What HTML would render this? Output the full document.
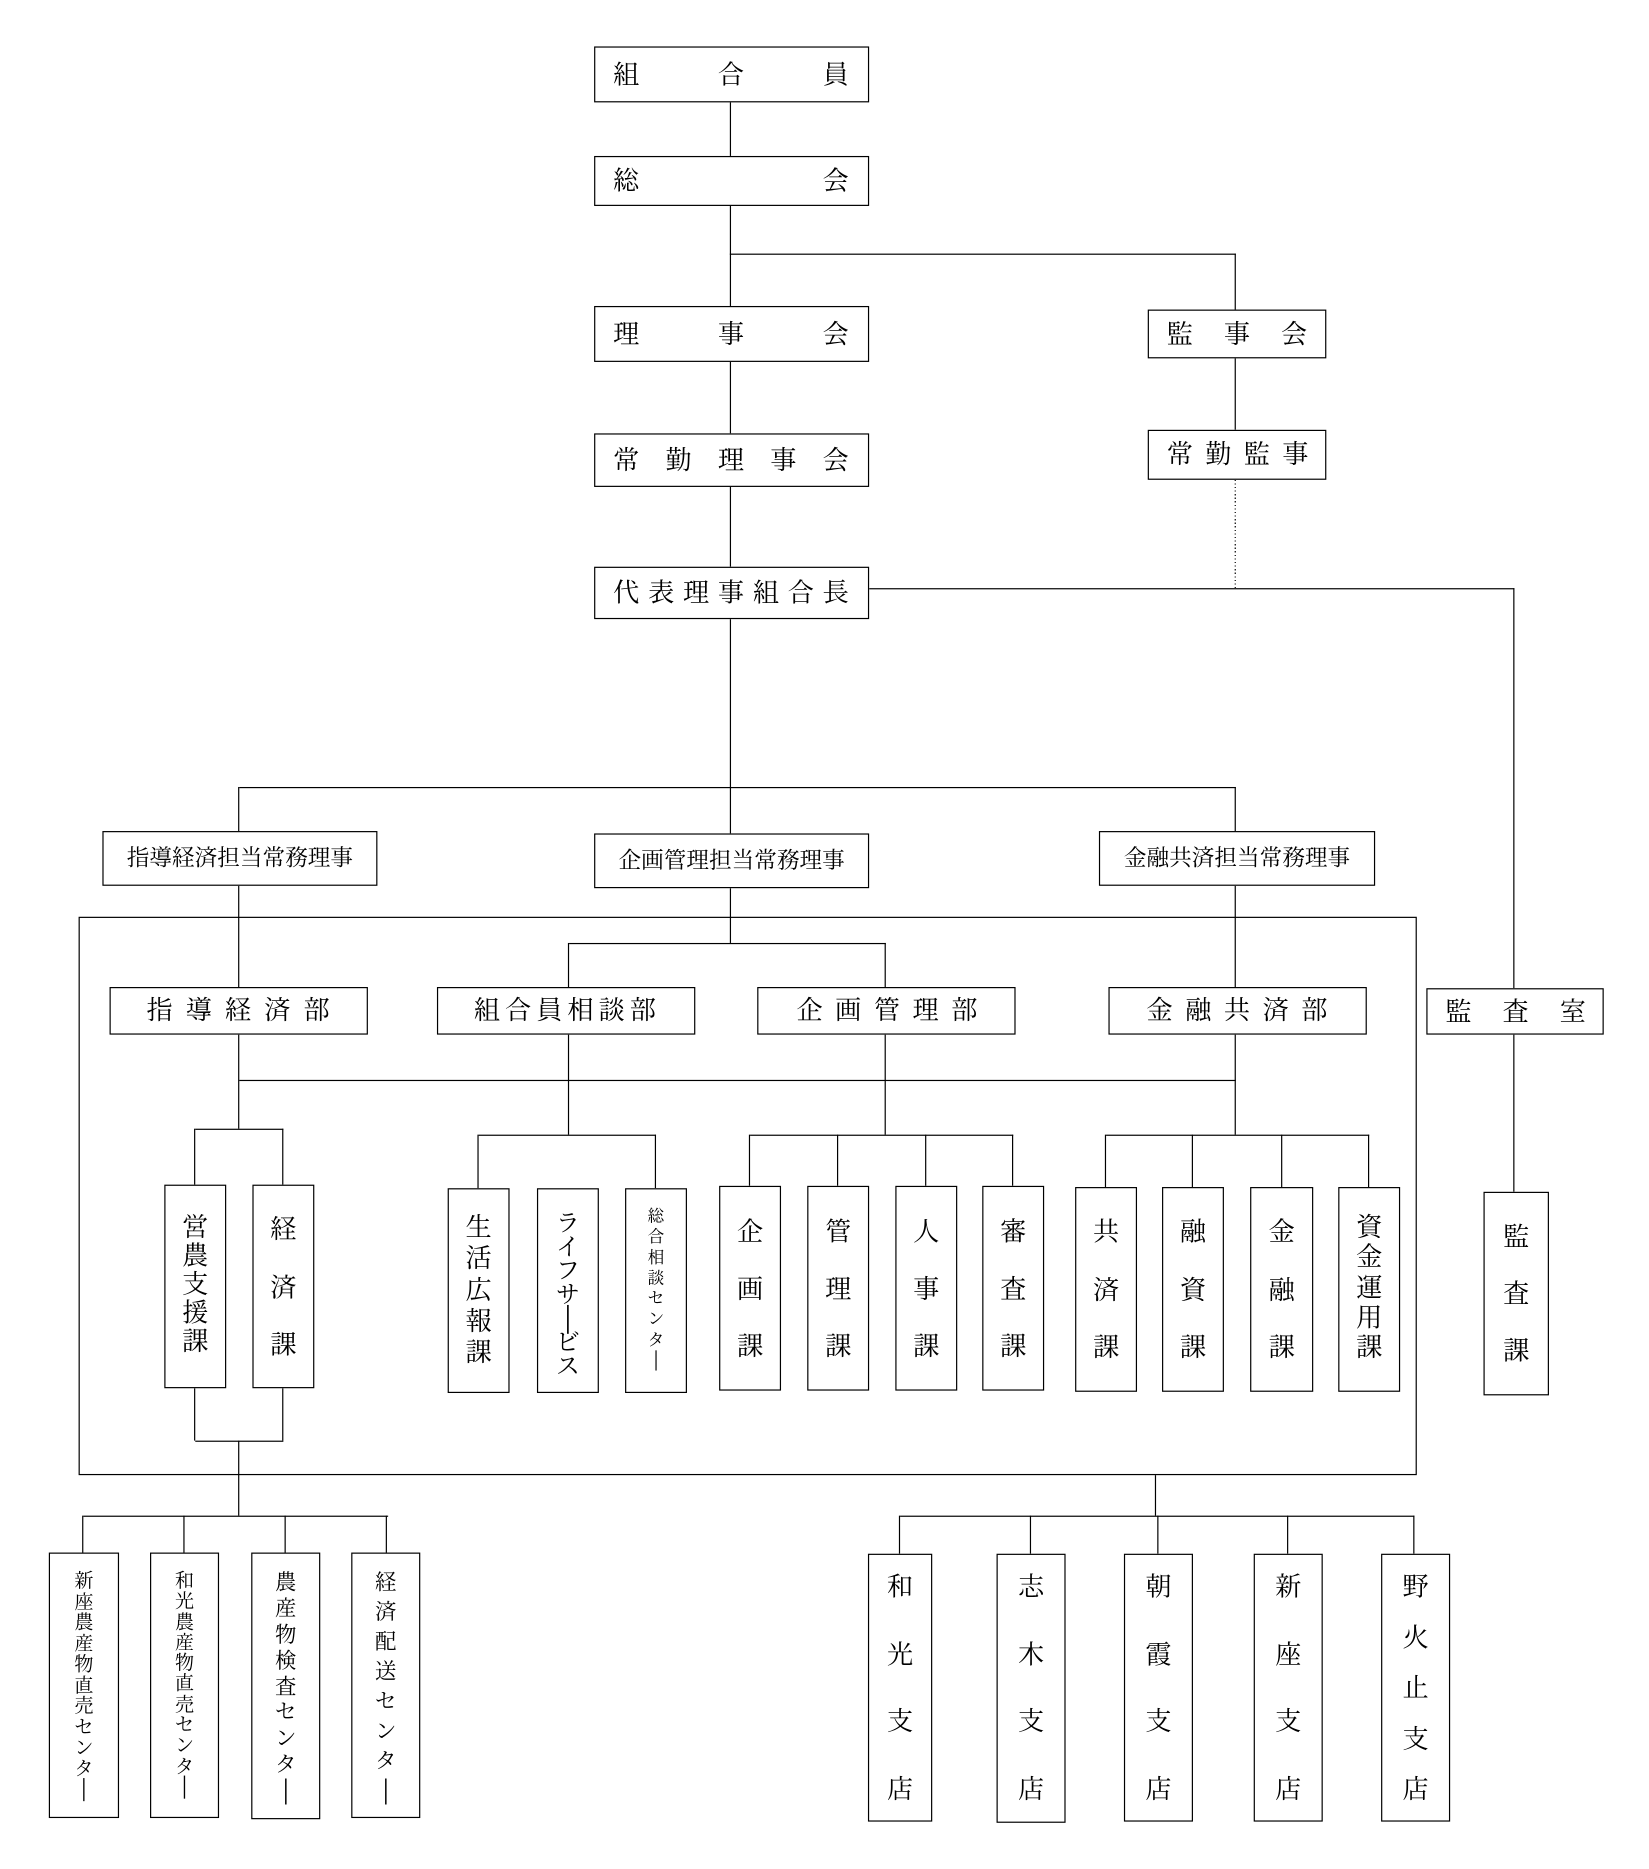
<!DOCTYPE html>
<html lang="ja"><head><meta charset="utf-8">
<style>
html,body{margin:0;padding:0;background:#fff;}
body{width:1649px;height:1869px;overflow:hidden;}
#c{position:absolute;left:0;top:0;width:1385px;height:1570px;transform:scale(1.1906);transform-origin:0 0;
font-family:"Liberation Serif","Noto Serif CJK JP","Noto Serif CJK SC",serif;color:#000;}
.b{position:absolute;border:1.6px solid #000;box-sizing:border-box;display:flex;justify-content:space-between;align-items:center;background:#fff;font-size:22px;line-height:1;}
.v{flex-direction:column;}
.b span{display:block;line-height:1;}
.cen{justify-content:center;font-size:19px;}
.h{position:absolute;height:0;border-top:1.5px solid #000;}
.l{position:absolute;width:0;border-left:1.5px solid #000;}
</style></head><body><div id="c">

<div class="l" style="left:613px;top:86px;height:45px"></div>
<div class="l" style="left:613px;top:173px;height:84px"></div>
<div class="h" style="left:613px;top:213px;width:425px"></div>
<div class="l" style="left:1037px;top:213px;height:47px"></div>
<div class="l" style="left:613px;top:304px;height:60px"></div>
<div class="l" style="left:1037px;top:301px;height:60px"></div>
<div style="position:absolute;left:1037px;top:403px;width:1px;height:91px;background:repeating-linear-gradient(#000 0 1px,transparent 1px 3px)"></div>
<div class="l" style="left:613px;top:409px;height:67px"></div>
<div class="h" style="left:730px;top:494px;width:542px"></div>
<div class="l" style="left:1271px;top:494px;height:336px"></div>
<div class="l" style="left:613px;top:520px;height:141px"></div>
<div class="h" style="left:201px;top:661px;width:837px"></div>
<div class="l" style="left:200px;top:661px;height:37px"></div>
<div class="l" style="left:613px;top:661px;height:39px"></div>
<div class="l" style="left:1037px;top:661px;height:37px"></div>

<div style="position:absolute;left:66px;top:770px;width:1124px;height:469px;border:1.5px solid #000;box-sizing:border-box"></div>

<div class="l" style="left:200px;top:744px;height:85px"></div>
<div class="l" style="left:613px;top:746px;height:46px"></div>
<div class="h" style="left:478px;top:792px;width:266px"></div>
<div class="l" style="left:477px;top:792px;height:37px"></div>
<div class="l" style="left:743px;top:792px;height:37px"></div>
<div class="l" style="left:1037px;top:744px;height:85px"></div>

<div class="l" style="left:200px;top:869px;height:79px"></div>
<div class="h" style="left:201px;top:907px;width:837px"></div>
<div class="l" style="left:477px;top:869px;height:84px"></div>
<div class="l" style="left:743px;top:869px;height:84px"></div>
<div class="l" style="left:1037px;top:869px;height:84px"></div>

<div class="h" style="left:164px;top:948px;width:74px"></div>
<div class="l" style="left:163px;top:948px;height:47px"></div>
<div class="l" style="left:237px;top:948px;height:47px"></div>

<div class="h" style="left:402px;top:953px;width:149px"></div>
<div class="l" style="left:401px;top:953px;height:45px"></div>
<div class="l" style="left:550px;top:953px;height:45px"></div>

<div class="h" style="left:630px;top:953px;width:221px"></div>
<div class="l" style="left:629px;top:953px;height:43px"></div>
<div class="l" style="left:703px;top:953px;height:43px"></div>
<div class="l" style="left:777px;top:953px;height:43px"></div>
<div class="l" style="left:850px;top:953px;height:43px"></div>

<div class="h" style="left:929px;top:953px;width:221px"></div>
<div class="l" style="left:928px;top:953px;height:44px"></div>
<div class="l" style="left:1001px;top:953px;height:44px"></div>
<div class="l" style="left:1076px;top:953px;height:44px"></div>
<div class="l" style="left:1149px;top:953px;height:44px"></div>

<div class="l" style="left:1271px;top:869px;height:132px"></div>

<div class="l" style="left:163px;top:1166px;height:44px"></div>
<div class="l" style="left:237px;top:1166px;height:44px"></div>
<div class="h" style="left:164px;top:1210px;width:74px"></div>
<div class="l" style="left:200px;top:1210px;height:63px"></div>
<div class="h" style="left:70px;top:1273px;width:256px"></div>
<div class="l" style="left:69px;top:1273px;height:31px"></div>
<div class="l" style="left:154px;top:1273px;height:31px"></div>
<div class="l" style="left:239px;top:1273px;height:31px"></div>
<div class="l" style="left:324px;top:1273px;height:31px"></div>

<div class="l" style="left:970px;top:1239px;height:34px"></div>
<div class="h" style="left:756px;top:1273px;width:432px"></div>
<div class="l" style="left:755px;top:1273px;height:32px"></div>
<div class="l" style="left:865px;top:1273px;height:32px"></div>
<div class="l" style="left:972px;top:1273px;height:32px"></div>
<div class="l" style="left:1081px;top:1273px;height:32px"></div>
<div class="l" style="left:1187px;top:1273px;height:32px"></div>

<div class="b" style="left:499px;top:39px;width:231px;height:47px;padding:0 16px 0 15px"><span>組</span><span>合</span><span>員</span></div>
<div class="b" style="left:499px;top:131px;width:231px;height:42px;padding:0 16px 0 15px"><span>総</span><span>会</span></div>
<div class="b" style="left:499px;top:257px;width:231px;height:47px;padding:0 16px 0 15px"><span>理</span><span>事</span><span>会</span></div>
<div class="b" style="left:964px;top:260px;width:150px;height:41px;padding:0 15px 0 15px"><span>監</span><span>事</span><span>会</span></div>
<div class="b" style="left:499px;top:364px;width:231px;height:45px;padding:0 16px 0 15px"><span>常</span><span>勤</span><span>理</span><span>事</span><span>会</span></div>
<div class="b" style="left:964px;top:361px;width:150px;height:42px;padding:0 14px 0 15px"><span>常</span><span>勤</span><span>監</span><span>事</span></div>
<div class="b" style="left:499px;top:476px;width:231px;height:44px;padding:0 16px 0 15px"><span>代</span><span>表</span><span>理</span><span>事</span><span>組</span><span>合</span><span>長</span></div>

<div class="b cen" style="left:86px;top:698px;width:231px;height:46px">指導経済担当常務理事</div>
<div class="b cen" style="left:499px;top:700px;width:231px;height:46px">企画管理担当常務理事</div>
<div class="b cen" style="left:923px;top:698px;width:232px;height:46px">金融共済担当常務理事</div>

<div class="b" style="left:92px;top:829px;width:217px;height:40px;padding:0 31px 0 30px"><span>指</span><span>導</span><span>経</span><span>済</span><span>部</span></div>
<div class="b" style="left:367px;top:829px;width:217px;height:40px;padding:0 32px 0 30px"><span>組</span><span>合</span><span>員</span><span>相</span><span>談</span><span>部</span></div>
<div class="b" style="left:636px;top:829px;width:217px;height:40px;padding:0 31px 0 32px"><span>企</span><span>画</span><span>管</span><span>理</span><span>部</span></div>
<div class="b" style="left:931px;top:829px;width:217px;height:40px;padding:0 32px 0 31px"><span>金</span><span>融</span><span>共</span><span>済</span><span>部</span></div>
<div class="b" style="left:1198px;top:830px;width:149px;height:39px;padding:0 14px 0 15px"><span>監</span><span>査</span><span>室</span></div>

<div class="b v" style="left:138px;top:995px;width:52px;height:171px;padding:24px 0 27px"><span>営</span><span>農</span><span>支</span><span>援</span><span>課</span></div>
<div class="b v" style="left:212px;top:995px;width:52px;height:171px;padding:26px 0 24px"><span>経</span><span>済</span><span>課</span></div>

<div class="b v" style="left:376px;top:998px;width:52px;height:172px;padding:21px 0 22px"><span>生</span><span>活</span><span>広</span><span>報</span><span>課</span></div>
<div class="b v" style="left:451px;top:998px;width:52px;height:172px;padding:19px 0 20px;font-size:20px"><span>ラ</span><span>イ</span><span>フ</span><span>サ</span><span>│</span><span>ビ</span><span>ス</span></div>
<div class="b v" style="left:525px;top:998px;width:52px;height:172px;padding:17px 0 18px;font-size:14px"><span>総</span><span>合</span><span>相</span><span>談</span><span>セ</span><span>ン</span><span>タ</span><span>│</span></div>

<div class="b v" style="left:604px;top:996px;width:52px;height:172px;padding:27px 0 25px"><span>企</span><span>画</span><span>課</span></div>
<div class="b v" style="left:678px;top:996px;width:52px;height:172px;padding:27px 0 25px"><span>管</span><span>理</span><span>課</span></div>
<div class="b v" style="left:752px;top:996px;width:52px;height:172px;padding:27px 0 25px"><span>人</span><span>事</span><span>課</span></div>
<div class="b v" style="left:825px;top:996px;width:52px;height:172px;padding:27px 0 25px"><span>審</span><span>査</span><span>課</span></div>

<div class="b v" style="left:903px;top:997px;width:52px;height:172px;padding:26px 0 25px"><span>共</span><span>済</span><span>課</span></div>
<div class="b v" style="left:976px;top:997px;width:52px;height:172px;padding:26px 0 25px"><span>融</span><span>資</span><span>課</span></div>
<div class="b v" style="left:1050px;top:997px;width:53px;height:172px;padding:26px 0 25px"><span>金</span><span>融</span><span>課</span></div>
<div class="b v" style="left:1124px;top:997px;width:52px;height:172px;padding:22px 0 25px"><span>資</span><span>金</span><span>運</span><span>用</span><span>課</span></div>

<div class="b v" style="left:1246px;top:1001px;width:55px;height:171px;padding:26px 0 25px"><span>監</span><span>査</span><span>課</span></div>

<div class="b v" style="left:41px;top:1304px;width:59px;height:223px;padding:16px 0 14px;font-size:16px"><span>新</span><span>座</span><span>農</span><span>産</span><span>物</span><span>直</span><span>売</span><span>セ</span><span>ン</span><span>タ</span><span>│</span></div>
<div class="b v" style="left:126px;top:1304px;width:58px;height:223px;padding:16px 0 16px;font-size:16px"><span>和</span><span>光</span><span>農</span><span>産</span><span>物</span><span>直</span><span>売</span><span>セ</span><span>ン</span><span>タ</span><span>│</span></div>
<div class="b v" style="left:211px;top:1304px;width:58px;height:224px;padding:15px 0 14px;font-size:18px"><span>農</span><span>産</span><span>物</span><span>検</span><span>査</span><span>セ</span><span>ン</span><span>タ</span><span>│</span></div>
<div class="b v" style="left:295px;top:1304px;width:58px;height:223px;padding:15px 0 13px;font-size:18px"><span>経</span><span>済</span><span>配</span><span>送</span><span>セ</span><span>ン</span><span>タ</span><span>│</span></div>

<div class="b v" style="left:729px;top:1305px;width:54px;height:225px;padding:16px 0 15px"><span>和</span><span>光</span><span>支</span><span>店</span></div>
<div class="b v" style="left:837px;top:1305px;width:58px;height:226px;padding:16px 0 16px"><span>志</span><span>木</span><span>支</span><span>店</span></div>
<div class="b v" style="left:944px;top:1305px;width:58px;height:225px;padding:16px 0 15px"><span>朝</span><span>霞</span><span>支</span><span>店</span></div>
<div class="b v" style="left:1053px;top:1305px;width:58px;height:225px;padding:16px 0 15px"><span>新</span><span>座</span><span>支</span><span>店</span></div>
<div class="b v" style="left:1160px;top:1305px;width:58px;height:225px;padding:16px 0 15px"><span>野</span><span>火</span><span>止</span><span>支</span><span>店</span></div>

</div></body></html>
